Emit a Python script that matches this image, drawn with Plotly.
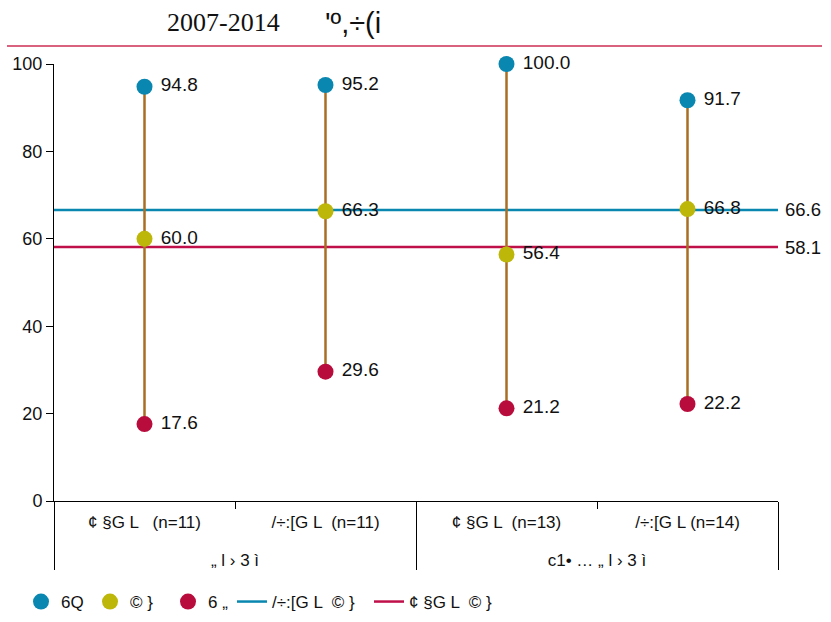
import plotly.graph_objects as go

# ---- data ----
groups = ["„ l › 3 ì", "„ l › 3 ì", "c1• … „ l › 3 ì", "c1• … „ l › 3 ì"]
categories = ["¢ §G L   (n=11)", "/÷:[G L  (n=11)", "¢ §G L  (n=13)", "/÷:[G L (n=14)"]
max_vals = [94.8, 95.2, 100.0, 91.7]
avg_vals = [60.0, 66.3, 56.4, 66.8]
min_vals = [17.6, 29.6, 21.2, 22.2]
series_names = ["6Q", "© }", "6 „"]
ref_names = ["/÷:[G L  © }", "¢ §G L  © }"]
ref_vals = [66.6, 58.1]
title_num = "2007-2014"
title_rest = "'º,÷(i"
y_ticks = [0, 20, 40, 60, 80, 100]

# ---- styles ----
FONT = "Liberation Sans, Arial, sans-serif"
C_BLUE = "#0A87B0"
C_OLIVE = "#BDB70A"
C_RED = "#B80C3C"
C_BROWN = "#A86E22"
C_REFBLUE = "#0A87B0"
C_REFRED = "#C0104A"
W, H = 831, 622
ML, MR, MT, MB = 54, 53, 64, 121
pw = W - ML - MR
ph = H - MT - MB

# group level pushed down by one blank line to match spacing
xg = ["<br>" + g for g in groups]

fig = go.Figure()

# vertical range lines
for g, c, lo, hi in zip(xg, categories, min_vals, max_vals):
    fig.add_trace(go.Scatter(
        x=[[g, g], [c, c]], y=[lo, hi], mode="lines",
        line=dict(color=C_BROWN, width=2.5),
        showlegend=False, hoverinfo="skip", cliponaxis=False))

series_vals = [max_vals, avg_vals, min_vals]
series_colors = [C_BLUE, C_OLIVE, C_RED]
legend_ids = ["legend", "legend2", "legend3"]
for name, vals, col, lg in zip(series_names, series_vals, series_colors, legend_ids):
    fig.add_trace(go.Scatter(
        x=[xg, categories], y=vals, mode="markers+text",
        name=name, legend=lg,
        marker=dict(color=col, size=16),
        text=["\u00a0" + f"{v:.1f}" for v in vals], textposition="middle right",
        textfont=dict(size=19, color="#111111", family=FONT),
        cliponaxis=False))

# reference lines
ref_colors = [C_REFBLUE, C_REFRED]
ref_legends = ["legend4", "legend5"]
for name, val, col, lg in zip(ref_names, ref_vals, ref_colors, ref_legends):
    fig.add_shape(type="line", xref="paper", x0=0, x1=1, yref="y", y0=val, y1=val,
                  line=dict(color=col, width=2.5), layer="below",
                  showlegend=True, name=name, legend=lg)
    fig.add_annotation(xref="paper", x=1, yref="y", y=val, text=f"{val:.1f}",
                       showarrow=False, xanchor="left", xshift=5,
                       font=dict(size=18.5, color="#111111", family=FONT))

# title rule line
fig.add_shape(type="line", xref="paper", yref="paper",
              x0=(7 - ML) / pw, x1=(822 - ML) / pw,
              y0=(H - MB - 46) / ph, y1=(H - MB - 46) / ph,
              line=dict(color="#CC2F55", width=1.3))

# second part of the title
fig.add_annotation(xref="paper", yref="paper",
                   x=(323 - ML) / pw, y=(H - MB - 23) / ph,
                   xanchor="left", yanchor="middle", showarrow=False,
                   text=title_rest, font=dict(size=29, color="#111111", family=FONT))

legend_lefts = [21, 90, 168, 232, 369]
layout_legends = {}
for k, left in enumerate(legend_lefts):
    key = "legend" if k == 0 else f"legend{k+1}"
    layout_legends[key] = dict(
        x=left / W, xref="container", xanchor="left",
        y=1 - 602 / H, yref="container", yanchor="middle",
        orientation="h", bgcolor="rgba(0,0,0,0)",
        font=dict(size=17, color="#111111", family=FONT))

fig.update_layout(
    width=W, height=H,
    margin=dict(l=ML, r=MR, t=MT, b=MB),
    paper_bgcolor="white", plot_bgcolor="white",
    font=dict(family=FONT, size=17, color="#111111"),
    title=dict(
        text=title_num,
        x=167 / W, xref="container", xanchor="left",
        y=1 - 22 / H, yref="container", yanchor="middle",
        font=dict(size=26, color="#111111",
                  family="Liberation Serif, Times New Roman, serif")),
    showlegend=True,
    **layout_legends,
)

fig.update_xaxes(
    type="multicategory", range=[-0.5, 3.5],
    showline=True, linecolor="black", linewidth=1,
    ticks="outside", ticklen=7, tickcolor="black", ticklabelstandoff=6,
    showdividers=True, dividercolor="black", dividerwidth=1,
    showgrid=False, zeroline=False,
    tickfont=dict(size=17, family=FONT, color="#111111"))
fig.update_yaxes(
    range=[0, 100], tickvals=y_ticks, showline=True, linecolor="black", linewidth=1,
    ticks="outside", ticklen=7, tickcolor="black",
    showgrid=False, zeroline=False,
    tickfont=dict(size=18, family=FONT, color="#111111"))

fig.write_html("out.html", config={"displayModeBar": False},
               post_script="document.body.style.margin='0';")
